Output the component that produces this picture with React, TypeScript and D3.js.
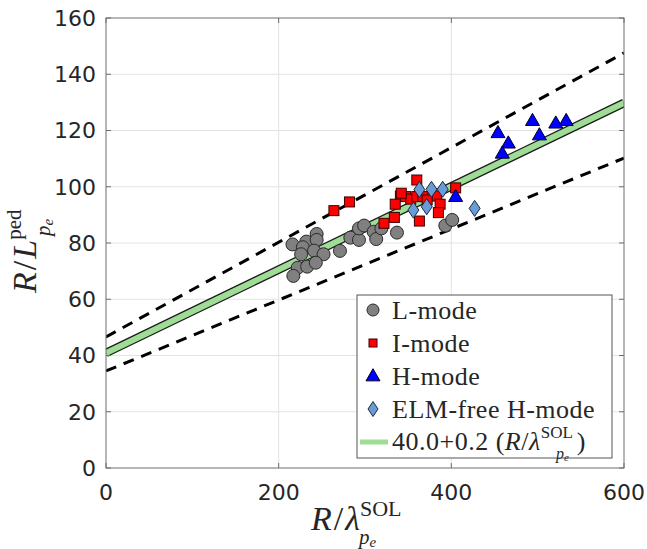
import React from 'react';
import * as d3 from 'd3';

// values (x = R/lambda, y = R/L)
const lMode: [number, number][] = [
  [216, 79.5], [232, 80.5], [244, 83.2], [244, 81.1], [228, 78.5], [226, 76.0],
  [241, 77.3], [252, 76.0], [222, 71.2], [233, 71.6], [243, 73.0], [217, 68.3],
  [271, 77.2], [283, 81.9], [293, 81.1], [293, 85.2], [299, 86.2], [310, 84.0],
  [313, 81.4], [319, 85.2], [337, 83.7], [393, 86.2], [401, 88.2],
];
const iMode: [number, number][] = [
  [264, 91.5], [282, 94.6], [360, 102.4], [341, 96.7], [347, 96.5], [335, 93.8],
  [353, 95.6], [360, 96.5], [367, 96.5], [383, 96.7], [387, 93.8], [385, 90.8],
  [334, 89.1], [322, 87.0], [363, 87.8], [405, 99.6], [372, 95.3], [342, 97.7],
];
const hMode: [number, number][] = [
  [454, 119.2], [466, 115.5], [459, 111.9], [494, 123.5], [502, 118.4],
  [521, 122.6], [533, 123.5], [405, 96.5],
];
const elmFree: [number, number][] = [
  [363, 99.0], [377, 99.1], [390, 99.1], [356, 91.7], [371.5, 92.9], [427, 92.3],
];
// line endpoints
const fitLine: [number, number][] = [[0, 40.9], [600, 129.8]];
const upperLine: [number, number][] = [[0, 46.6], [600, 147.6]];
const lowerLine: [number, number][] = [[0, 34.5], [600, 110.2]];

const xTicks = [0, 200, 400, 600];
const yTicks = [0, 20, 40, 60, 80, 100, 120, 140, 160];
const legendLabels = ['L-mode', 'I-mode', 'H-mode', 'ELM-free H-mode'];

const W = 647;
const H = 549;
const x = d3.scaleLinear().domain([0, 600]).range([106, 624]);
const y = d3.scaleLinear().domain([0, 160]).range([468, 18]);

const tickFont = '"DejaVu Sans", sans-serif';
const serif = '"Liberation Serif", "Times New Roman", serif';

const circle = (cx: number, cy: number, r = 6.5) => (
  <circle cx={cx} cy={cy} r={r} fill="#808080" stroke="#2a2a2a" strokeWidth={1} />
);
const square = (cx: number, cy: number, s = 10) => (
  <rect x={cx - s / 2} y={cy - s / 2} width={s} height={s} fill="#ff0000" stroke="#3a0000" strokeWidth={1} />
);
const triangle = (cx: number, cy: number, s = 14) => {
  const h = s * 0.87;
  return (
    <path
      d={`M${cx},${cy - h * 0.6}L${cx + s / 2},${cy + h * 0.4}L${cx - s / 2},${cy + h * 0.4}Z`}
      fill="#0000ff"
      stroke="#00002a"
      strokeWidth={1}
    />
  );
};
const diamond = (cx: number, cy: number, w = 11, h = 16) => (
  <path
    d={`M${cx},${cy - h / 2}L${cx + w / 2},${cy}L${cx},${cy + h / 2}L${cx - w / 2},${cy}Z`}
    fill="#6a9bd6"
    stroke="#1a2a3a"
    strokeWidth={1}
  />
);

const line = d3.line<[number, number]>().x(d => x(d[0])).y(d => y(d[1]));

export default function App() {
  const left = x(0), right = x(600), top = y(160), bottom = y(0);
  return (
    <svg width={W} height={H} style={{ position: 'absolute', left: 0, top: 0, background: '#fff' }}>
      <defs>
        <clipPath id="plot">
          <rect x={left} y={top} width={right - left} height={bottom - top} />
        </clipPath>
      </defs>
      <rect x={0} y={0} width={W} height={H} fill="#fff" />
      {/* grid */}
      {xTicks.slice(1, -1).map(t => (
        <line key={'gx' + t} x1={x(t)} x2={x(t)} y1={top} y2={bottom} stroke="#e3e3e3" strokeWidth={1} />
      ))}
      {yTicks.slice(1, -1).map(t => (
        <line key={'gy' + t} x1={left} x2={right} y1={y(t)} y2={y(t)} stroke="#e3e3e3" strokeWidth={1} />
      ))}
      <g clipPath="url(#plot)">
        <path d={line(upperLine) || ''} stroke="#000" strokeWidth={3} strokeDasharray="11,8" fill="none" />
        <path d={line(lowerLine) || ''} stroke="#000" strokeWidth={3} strokeDasharray="11,8" fill="none" />
        <path d={line(fitLine) || ''} stroke="#1a1a1a" strokeWidth={8.5} fill="none" />
        <path d={line(fitLine) || ''} stroke="#9fdc96" strokeWidth={6} fill="none" />
        {lMode.map((d, i) => <g key={'l' + i}>{circle(x(d[0]), y(d[1]))}</g>)}
        {iMode.map((d, i) => <g key={'i' + i}>{square(x(d[0]), y(d[1]))}</g>)}
        {elmFree.map((d, i) => <g key={'e' + i}>{diamond(x(d[0]), y(d[1]))}</g>)}
        {hMode.map((d, i) => <g key={'h' + i}>{triangle(x(d[0]), y(d[1]))}</g>)}
      </g>
      {/* box and ticks */}
      <rect x={left} y={top} width={right - left} height={bottom - top} fill="none" stroke="#6e6e6e" strokeWidth={1} />
      {xTicks.map(t => (
        <g key={'tx' + t}>
          <line x1={x(t)} x2={x(t)} y1={bottom} y2={bottom - 5} stroke="#6e6e6e" />
          <line x1={x(t)} x2={x(t)} y1={top} y2={top + 5} stroke="#6e6e6e" />
          <text x={x(t)} y={500} textAnchor="middle" fontFamily={tickFont} fontSize={22} fill="#262626">{t}</text>
        </g>
      ))}
      {yTicks.map(t => (
        <g key={'ty' + t}>
          <line x1={left} x2={left + 5} y1={y(t)} y2={y(t)} stroke="#6e6e6e" />
          <line x1={right} x2={right - 5} y1={y(t)} y2={y(t)} stroke="#6e6e6e" />
          <text x={96} y={y(t)} dy="0.36em" textAnchor="end" fontFamily={tickFont} fontSize={22} fill="#262626">{t}</text>
        </g>
      ))}
      {/* x label */}
      <text x={311} y={530} fontFamily={serif} fontSize={34} fill="#262626">
        <tspan fontStyle="italic">R</tspan>
        <tspan dx={2}>/</tspan>
        <tspan fontStyle="italic" dx={2}>λ</tspan>
        <tspan fontSize={22} dy={-14}>SOL</tspan>
      </text>
      <text x={359} y={544} fontFamily={serif} fontSize={21} fontStyle="italic" fill="#262626">
        <tspan>p</tspan>
        <tspan fontSize={15} dy={3}>e</tspan>
      </text>
      {/* y label */}
      <g transform="translate(36,293) rotate(-90)">
        <text x={0} y={0} fontFamily={serif} fontSize={34} fill="#262626">
          <tspan fontStyle="italic">R</tspan>
          <tspan dx={2}>/</tspan>
          <tspan fontStyle="italic" dx={2}>L</tspan>
          <tspan fontSize={21} dy={-15}>ped</tspan>
        </text>
        <text x={57} y={14} fontFamily={serif} fontSize={21} fontStyle="italic" fill="#262626">
          <tspan>p</tspan>
          <tspan fontSize={15} dy={3}>e</tspan>
        </text>
      </g>
      {/* legend */}
      <rect x={357} y={295} width={255} height={163} fill="#fff" stroke="#555" strokeWidth={1} />
      {legendLabels.map((lab, i) => {
        const ly = 310 + i * 33;
        return (
          <g key={lab}>
            {i === 0 && circle(373, ly, 6)}
            {i === 1 && square(373, ly, 8)}
            {i === 2 && triangle(373, ly, 14)}
            {i === 3 && diamond(373, ly, 10, 15)}
            <text x={392} y={ly} dy="0.33em" fontFamily={serif} fontSize={26} letterSpacing={0.5} fill="#262626">{lab}</text>
          </g>
        );
      })}
      <line x1={360} x2={388} y1={442} y2={442} stroke="#9fdc96" strokeWidth={5} />
      <text x={392} y={450} fontFamily={serif} fontSize={26} letterSpacing={0.5} fill="#262626">
        <tspan>40.0+0.2 (</tspan>
        <tspan fontStyle="italic">R</tspan>
        <tspan>/</tspan>
        <tspan fontStyle="italic">λ</tspan>
        <tspan fontSize={17} dy={-12} letterSpacing={0}>SOL</tspan>
        <tspan dx={4} dy={12}>)</tspan>
      </text>
      <text x={556} y={459} fontFamily={serif} fontSize={16} fontStyle="italic" fill="#262626">
        <tspan>p</tspan>
        <tspan fontSize={11} dy={2}>e</tspan>
      </text>
    </svg>
  );
}
